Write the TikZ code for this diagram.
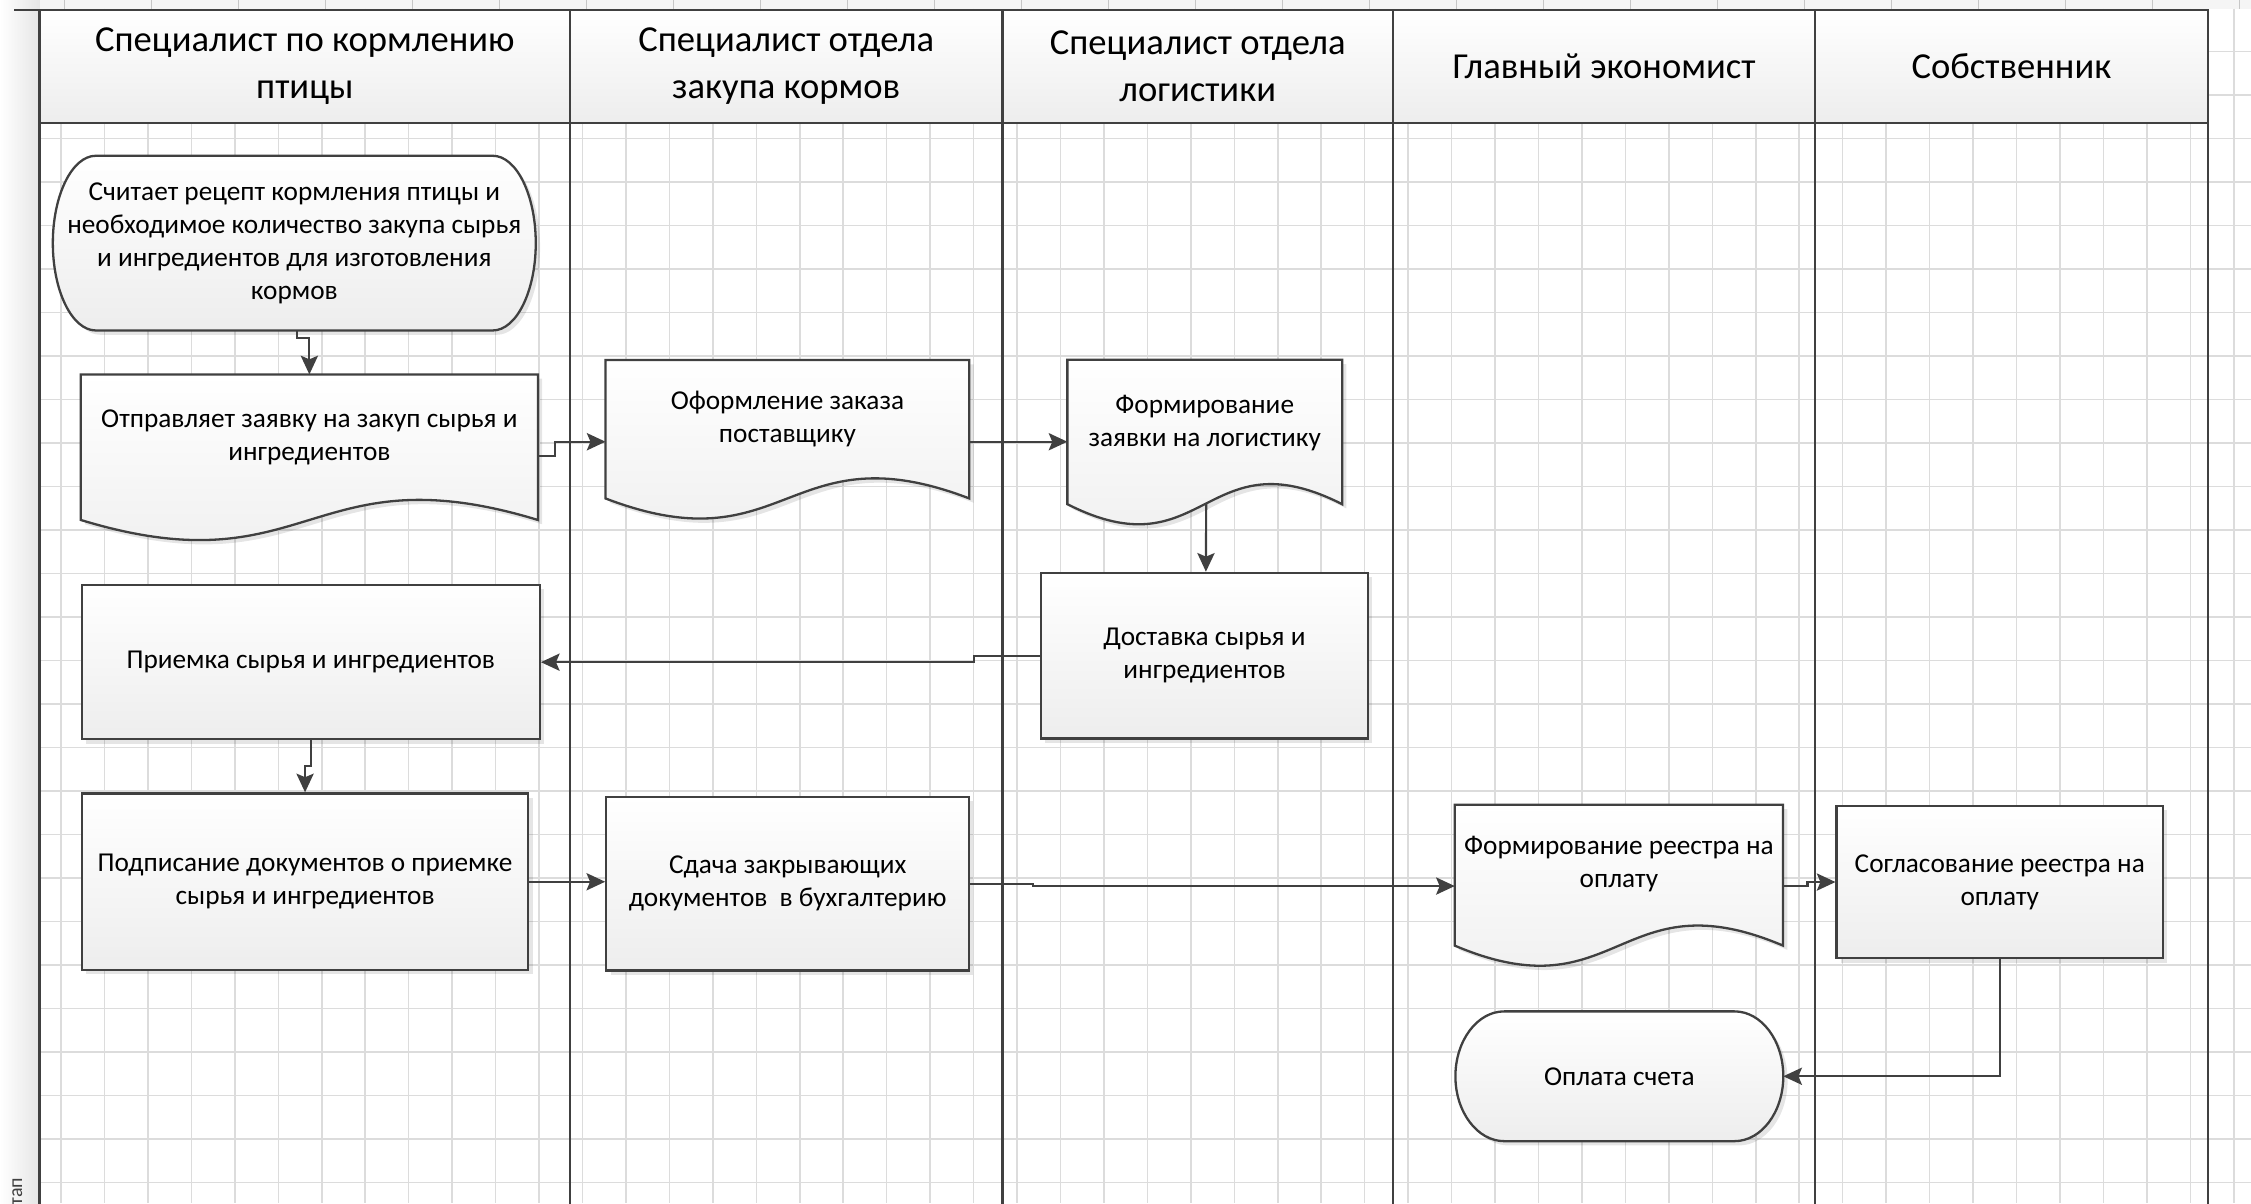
\documentclass[tikz,border=0pt]{standalone}
\usepackage{fontspec}
\setmainfont{Carlito}
\usetikzlibrary{calc,arrows.meta,shadows}
\pgfdeclarelayer{gridl}
\pgfdeclarelayer{shp}
\pgfsetlayers{gridl,shp,main}
\definecolor{ln}{HTML}{404040}
\definecolor{gridc}{HTML}{DCDCDC}
\definecolor{txtc}{HTML}{000000}
\tikzset{
  hdr/.style={rectangle, draw=ln, line width=1.5pt, top color=white, bottom color=black!7,
    font=\fontsize{25.5}{32.5}\selectfont, align=center, inner sep=0pt, text=txtc},
  boxshadow/.style={drop shadow={shadow xshift=3pt, shadow yshift=-3pt, fill=black, opacity=0.1}},
  box/.style={rectangle, draw=ln, line width=1.6pt, top color=white, bottom color=black!7,
    font=\fontsize{19}{23}\selectfont, align=center, inner sep=0pt, text=txtc, boxshadow},
  txtnode/.style={rectangle, inner sep=0pt, font=\fontsize{19}{23}\selectfont, align=center, text=txtc},
  shapeline/.style={draw=ln, line width=1.6pt, top color=white, bottom color=black!7, boxshadow},
  poolline/.style={draw=ln, line width=2pt},
  laneline/.style={draw=ln, line width=1.6pt},
  arr/.style={draw=ln, line width=1.5pt, -{Stealth[length=13pt,width=12pt,inset=2.5pt]}},
}
\newcommand\termpath[3]{%
  ($(#1.north west)+(#2,0)$) -- ($(#1.north east)+(-#2,0)$)
  .. controls ($(#1.north east)+(-0.448*#2,0)$) and ($(#1.east)+(0,-0.552*#3)$) .. (#1.east)
  .. controls ($(#1.east)+(0,0.552*#3)$) and ($(#1.south east)+(-0.448*#2,0)$) .. ($(#1.south east)+(-#2,0)$)
  -- ($(#1.south west)+(#2,0)$)
  .. controls ($(#1.south west)+(0.448*#2,0)$) and ($(#1.west)+(0,0.552*#3)$) .. (#1.west)
  .. controls ($(#1.west)+(0,-0.552*#3)$) and ($(#1.north west)+(0.448*#2,0)$) .. cycle}
\newcommand\docpath[2]{%
  (#1.north west) -- (#1.north east) -- ($(#1.south east)+(0,#2)$)
  .. controls ($(#1.south)+(0,#2-48.5)$) and ($(#1.south)+(0,#2+48.5)$) .. ($(#1.south west)+(0,#2)$)
  -- cycle}
\begin{document}
\begin{tikzpicture}[x=1pt,y=-1pt]
\useasboundingbox (0,0) rectangle (1568,838);
% background grid
\begin{pgfonlayer}{gridl}
  \fill[white] (0,0) rectangle (1568,838);
  \shade[left color=white, right color=black!10] (0,0) rectangle (27.7,838);
  \fill[black!4] (27.7,0) rectangle (1568,6);
  \foreach \i in {0,...,50} \draw[gridc, line width=1.1pt] ({42.5+30.27*\i},6) -- ({42.5+30.27*\i},838);
  \foreach \j in {0,...,26} \draw[gridc, line width=1.1pt] (27.7,{35.8+30.3*\j}) -- (1568,{35.8+30.3*\j});
  \foreach \i in {0,...,25} \draw[black!22, line width=0.8pt] ({45+60.6*\i},0) -- ({45+60.6*\i},6);
\end{pgfonlayer}
\node[rotate=90, anchor=west, inner sep=0pt, font=\fontsize{14}{14}\selectfont, text=black!75] (etap) at (12,840) {тап};
% headers
\node[hdr, minimum width=369.3pt, minimum height=78.5pt] (h1) at (212.35,46.25) {Специалист по кормлению\\птицы};
\node[hdr, minimum width=301.3pt, minimum height=78.5pt] (h2) at (547.65,46.25) {Специалист отдела\\закупа кормов};
\node[hdr, minimum width=272pt, minimum height=78.5pt] (h3) at (834.3,46.25) {Специалист отдела\\логистики};
\node[hdr, minimum width=294pt, minimum height=78.5pt] (h4) at (1117.3,46.25) {Главный экономист};
\node[hdr, minimum width=273.7pt, minimum height=78.5pt] (h5) at (1401.15,46.25) {Собственник};
% pool and lanes
\draw[poolline] (27.7,845) -- (27.7,7);
\draw[poolline] (10,7) -- (1538,7) -- (1538,845);
\draw[laneline] (27.7,85.5) -- (1538,85.5);
\draw[laneline] (397,7) -- (397,845);
\draw[laneline] (698.3,7) -- (698.3,845);
\draw[laneline] (970.3,7) -- (970.3,845);
\draw[laneline] (1264.3,7) -- (1264.3,845);
% terminators
\node[txtnode, minimum width=336pt, minimum height=121.3pt] (t1) at (205,169.35)
  {Считает рецепт кормления птицы и\\необходимое количество закупа сырья\\и ингредиентов для изготовления\\кормов};
\node[txtnode, minimum width=228pt, minimum height=90pt] (t2) at (1128,749.7) {Оплата счета};
% documents
\node[txtnode, minimum width=318pt, minimum height=87.6pt] (d2) at (215.5,304.8) {Отправляет заявку на закуп сырья и\\ингредиентов};
\node[txtnode, minimum width=253pt, minimum height=82pt] (d3) at (548.5,292) {Оформление заказа\\поставщику};
\node[txtnode, minimum width=191pt, minimum height=87.2pt] (d4) at (839.2,294.4) {Формирование\\заявки на логистику};
\node[txtnode, minimum width=228.3pt, minimum height=82.4pt] (d9) at (1127.7,602) {Формирование реестра на\\оплату};
\begin{pgfonlayer}{shp}
  \shade[shapeline] \termpath{t1}{30}{60.65};
  \shade[shapeline] \termpath{t2}{34}{45};
  \shade[shapeline] \docpath{d2}{13.4};
  \shade[shapeline] \docpath{d3}{14};
  \shade[shapeline] \docpath{d4}{13};
  \shade[shapeline] \docpath{d9}{15.3};
\end{pgfonlayer}
% process boxes
\node[box, minimum width=228pt, minimum height=115.3pt] (b5) at (839,456.7) {Доставка сырья и\\ингредиентов};
\node[box, minimum width=319pt, minimum height=107.5pt] (b6) at (216.5,461.25) {Приемка сырья и ингредиентов};
\node[box, minimum width=311pt, minimum height=123pt] (b7) at (212.5,614.2) {Подписание документов о приемке\\сырья и ингредиентов};
\node[box, minimum width=252.7pt, minimum height=121pt] (b8) at (548.7,615.5) {Сдача закрывающих\\документов\ \ в бухгалтерию};
\node[box, minimum width=227.3pt, minimum height=106.3pt] (b10) at (1393,614.4) {Согласование реестра на\\оплату};
% connectors
\draw[arr] ($(t1.south)+(2,0)$) -- ++(0,5) -| (d2.north);
\draw[arr] ($(d2.east)+(0,12.8)$) -- ++(12,0) |- ($(d3.west)+(0,15.7)$);
\draw[arr] ($(d3.east)+(0,15.7)$) -- ($(d4.west)+(0,13.3)$);
\draw[arr] ($(d4.south)+(1,13)$) -- ($(b5.north)+(1,0)$);
\draw[arr] (b5.west) -- ++(-46,0) |- (b6.east);
\draw[arr] (b6.south) -- ++(0,18) -| (b7.north);
\draw[arr] (b7.east) -- (b7.east -| b8.west);
\draw[arr] (b8.east) -- ++(44,0) |- ($(d9.west)+(0,15.2)$);
\draw[arr] ($(d9.east)+(0,15.2)$) -- ++(17,0) |- (b10.west);
\draw[arr] (b10.south) |- (t2.east);
\end{tikzpicture}
\end{document}
